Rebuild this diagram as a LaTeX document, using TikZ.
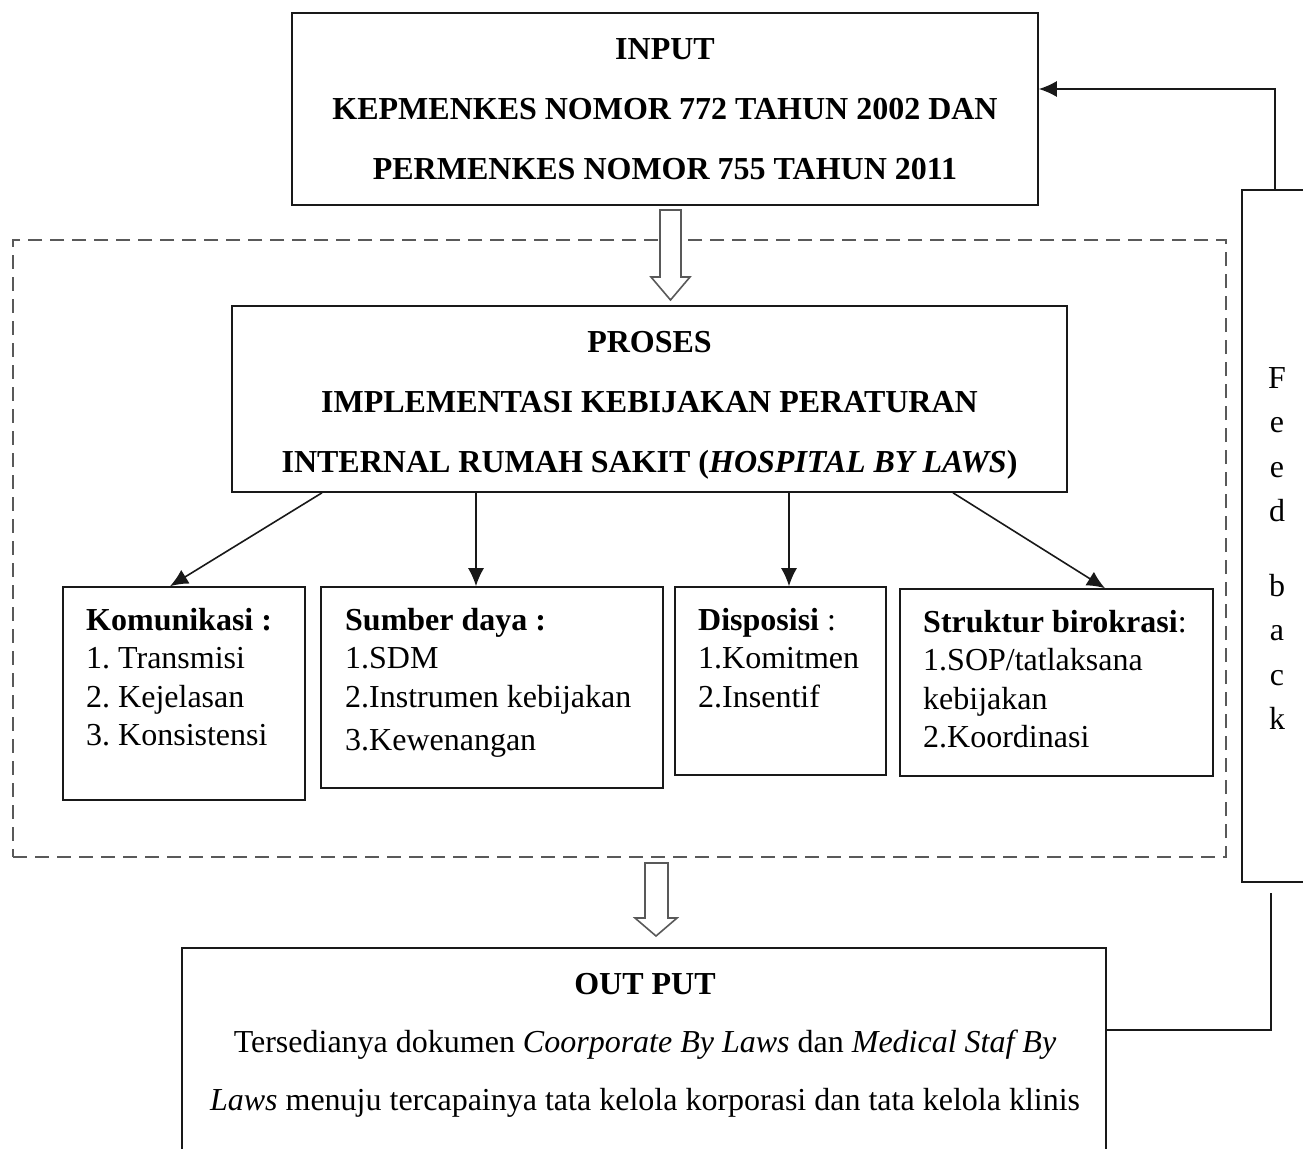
\documentclass[tikz,border=0pt]{standalone}
\usepackage{fontspec}
\setmainfont{Liberation Serif}
\usetikzlibrary{arrows.meta,calc}
\frenchspacing
\begin{document}
\begin{tikzpicture}[x=1pt,y=-1pt,
  box/.style={draw=black!90,line width=1.6pt,inner sep=0pt},
  big/.style={font=\fontsize{32}{60}\selectfont\bfseries,align=center},
  lst/.style={font=\fontsize{32}{38.5}\selectfont,align=left,anchor=north west,inner sep=0pt},
  conn/.style={draw=black!90,line width=1.6pt,-{Latex[length=18pt,width=16pt]}},
  plain/.style={draw=black!90,line width=1.6pt},
  hollow/.style={draw=black!65,line width=1.6pt,fill=white,line join=miter}
]
\path[use as bounding box,clip] (0,0) rectangle (1303,1148);

% dashed process frame
\node[draw=black!65,line width=1.6pt,dash pattern=on 14pt off 8pt,inner sep=0pt,
      minimum width=1213pt,minimum height=617pt] (frame) at (619.5,548.5) {};

% main boxes
\node[box,big,minimum width=746pt,minimum height=192pt] (input) at (665,109)
  {INPUT\\KEPMENKES NOMOR 772 TAHUN 2002 DAN\\PERMENKES NOMOR 755 TAHUN 2011};
\node[box,big,minimum width=835pt,minimum height=186pt] (proses) at (649.5,399)
  {\rule{0pt}{34pt}PROSES\\IMPLEMENTASI KEBIJAKAN PERATURAN\\INTERNAL RUMAH SAKIT (\textit{HOSPITAL BY LAWS})};

% sub boxes
\node[box,minimum width=242pt,minimum height=213pt] (kom) at (184,693.5) {};
\node[box,minimum width=342pt,minimum height=201pt] (sum) at (492,687.5) {};
\node[box,minimum width=211pt,minimum height=188pt] (dis) at (780.5,681) {};
\node[box,minimum width=313pt,minimum height=187pt] (str) at (1056.5,682.5) {};

\node[lst] (komt) at (86,603) {\strut\textbf{Komunikasi :}\\1. Transmisi\\2. Kejelasan\\3. Konsistensi};
\node[lst] (sumt) at (345,603) {\strut\textbf{Sumber daya :}\\1.SDM\\2.Instrumen kebijakan\\[5pt]3.Kewenangan};
\node[lst] (dist) at (698,603) {\strut\textbf{Disposisi} :\\1.Komitmen\\2.Insentif};
\node[lst] (strt) at (923,605) {\strut\textbf{Struktur birokrasi}:\\1.SOP/tatlaksana\\kebijakan\\2.Koordinasi};

% output
\node[box,minimum width=924pt,minimum height=260pt,anchor=north] (out) at (644,947) {};
\node[font=\fontsize{32}{58}\selectfont,align=center,anchor=north,inner sep=0pt] (outt) at (645,953.4)
  {\strut\textbf{OUT PUT}\\Tersedianya dokumen \textit{Coorporate By Laws} dan \textit{Medical Staf By}\\\textit{Laws} menuju tercapainya tata kelola korporasi dan tata kelola klinis};

% feedback
\node[box,minimum width=80pt,minimum height=692pt] (fb) at (1282,536) {};
\node[font=\fontsize{32}{44.5}\selectfont,align=center,anchor=north,inner sep=0pt] (fbt) at (1277,356.9)
  {\strut F\\e\\e\\d\\[30pt]b\\a\\c\\k};

% connectors from proses
\draw[conn] (proses.south west -| 322,0) -- (kom.north west -| 170,0);
\draw[conn] (proses.south west -| 476,0) -- (sum.north west -| 476,0);
\draw[conn] (proses.south west -| 789,0) -- (dis.north west -| 789,0);
\draw[conn] (proses.south west -| 953,0) -- (str.north west -| 1105,0);

% feedback connectors
\coordinate (fbtop) at ($(fb.north west)+(34,0)$);
\draw[conn] (fbtop) |- ($(input.east)+(0,-20)$);
\coordinate (fbend) at (1271,893);
\draw[plain] (fbend) |- ($(out.north east)+(0,83)$);

% hollow arrows
\draw[hollow] (660,210) -- (681,210) -- (681,277) -- (690,277) -- (670.5,300)
  -- (651,277) -- (660,277) -- cycle;
\draw[hollow] (645,863) -- (668,863) -- (668,918) -- (677,918) -- (656,936)
  -- (635,918) -- (645,918) -- cycle;
\end{tikzpicture}
\end{document}
